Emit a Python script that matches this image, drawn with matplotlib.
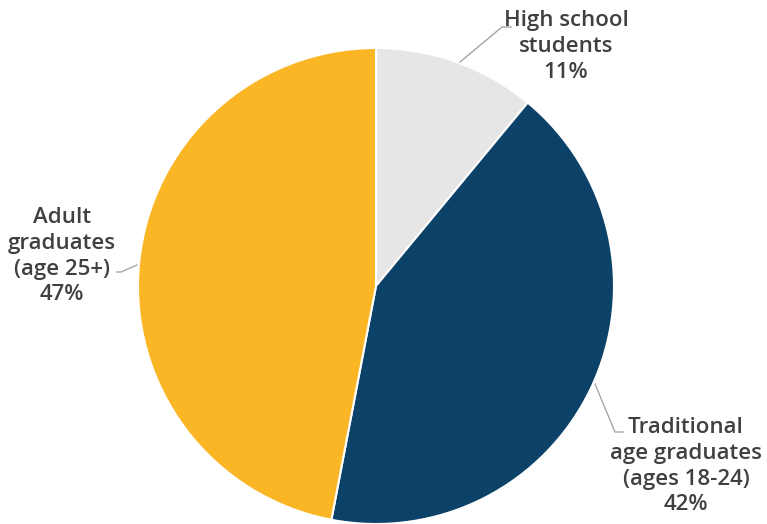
import matplotlib.pyplot as plt

labels = ['High school\nstudents\n11%',
          'Traditional\nage graduates\n(ages 18-24)\n42%',
          'Adult\ngraduates\n(age 25+)\n47%']
shares = [11, 42, 47]
colors = ['#e6e6e6', '#0c4168', '#fbb626']

W, H = 767, 524
cx, cy, r = 376, 286, 238

def px(x, y):
    # pixel position -> data coords (pie radius = 1)
    return (x - cx) / r, (cy - y) / r

fig = plt.figure(figsize=(W / 100, H / 100), dpi=100)
ax = fig.add_axes([(cx - r) / W, (H - cy - r) / H, 2 * r / W, 2 * r / H])
ax.pie(shares, colors=colors, startangle=90, counterclock=False, radius=1,
       wedgeprops=dict(edgecolor='white', linewidth=1.5))
ax.set_xlim(-1, 1)
ax.set_ylim(-1, 1)
ax.set_aspect('equal')
ax.axis('off')

# leader lines (pixel points) and label positions
leaders = [
    [(460, 62), (502, 27), (511, 27)],
    [(595, 384), (615, 432), (623, 432)],
    [(137, 265), (121, 272), (117, 272)],
]
text_pos = [(566, 10), (686, 417), (62, 207)]

for lab, pts, tp in zip(labels, leaders, text_pos):
    xs, ys = zip(*[px(*p) for p in pts])
    ax.plot(xs, ys, color='#a6a6a6', lw=1, clip_on=False)
    ax.text(*px(*tp), lab, ha='center', va='top', fontsize=16,
            family='Open Sans', weight='semibold', color='#404040',
            linespacing=1.3, clip_on=False)

fig.savefig('out.png', dpi=100)
